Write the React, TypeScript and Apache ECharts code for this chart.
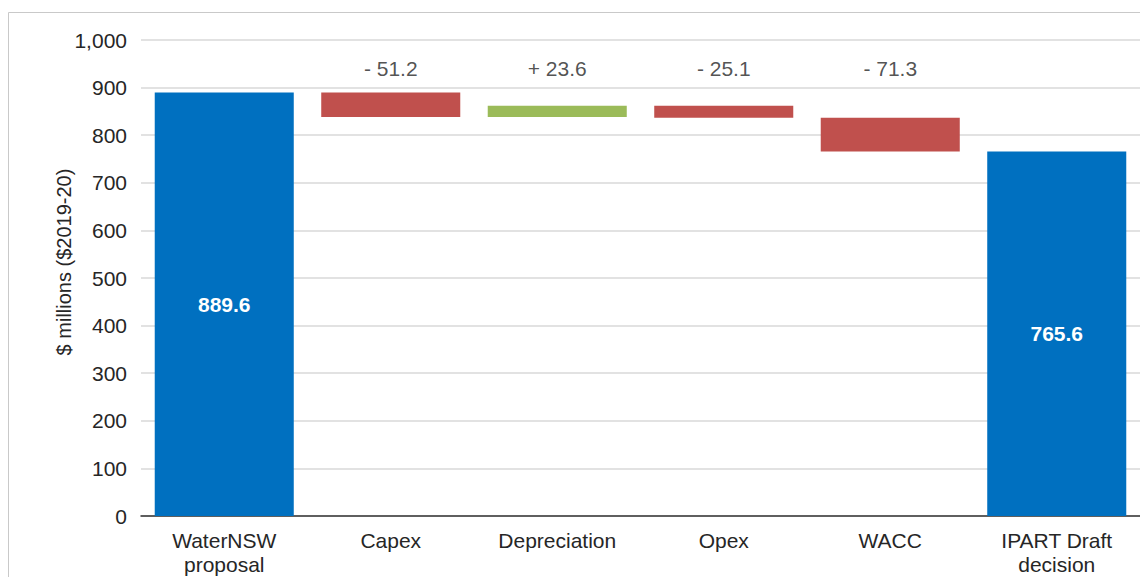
import React, { useEffect, useRef } from "react";
import * as echarts from "echarts";

const categories = ["WaterNSW\nproposal", "Capex", "Depreciation", "Opex", "WACC", "IPART Draft\ndecision"];
const startValue = 889.6;
const deltas = [-51.2, 23.6, -25.1, -71.3];
const endValue = 765.6;
const yTicks = { min: 0, max: 1000, interval: 100 };
const yAxisTitle = "$ millions ($2019-20)";

const BLUE = "#0070C0";
const RED = "#C0504D";
const GREEN = "#9BBB59";
const LABEL_LEVEL = 941;
const FONT = "Liberation Sans, Arial, sans-serif";
const TEXT = "#262626";

export default function App() {
  const ref = useRef<HTMLDivElement>(null);
  useEffect(() => {
    if (!ref.current) return;
    const chart = echarts.init(ref.current, null, { renderer: "svg" });

    const base: number[] = [0];
    const vis: any[] = [{ value: startValue, itemStyle: { color: BLUE } }];
    let run = startValue;
    deltas.forEach((d) => {
      const next = Math.round((run + d) * 10) / 10;
      base.push(Math.min(run, next));
      vis.push({ value: Math.abs(d), itemStyle: { color: d < 0 ? RED : GREEN } });
      run = next;
    });
    base.push(0);
    vis.push({ value: endValue, itemStyle: { color: BLUE } });

    const labelData: any[] = [null, ...deltas.map((d) => ({ value: LABEL_LEVEL, delta: d })), null];

    chart.setOption({
      animation: false,
      graphic: [
        {
          type: "rect",
          shape: { x: 8.5, y: 12.5, width: 1200, height: 700 },
          style: { fill: "none", stroke: "#c9c9c9", lineWidth: 1 },
          silent: true,
        },
        {
          type: "text",
          x: 64,
          y: 262,
          rotation: Math.PI / 2,
          style: {
            text: yAxisTitle,
            fill: TEXT,
            fontSize: 20,
            fontFamily: FONT,
            align: "center",
            verticalAlign: "middle",
          },
          silent: true,
        },
      ],
      grid: { left: 141, right: 0, top: 40, bottom: 61 },
      xAxis: {
        type: "category",
        data: categories,
        axisTick: { show: false },
        axisLine: { lineStyle: { color: "#333333", width: 1.5 } },
        axisLabel: { color: TEXT, fontSize: 21, fontFamily: FONT, margin: 12, lineHeight: 24, interval: 0 },
      },
      yAxis: {
        type: "value",
        min: yTicks.min,
        max: yTicks.max,
        interval: yTicks.interval,
        axisLabel: {
          color: TEXT,
          fontSize: 21,
          fontFamily: FONT,
          margin: 14,
          formatter: (v: number) => v.toLocaleString("en-US"),
        },
        splitLine: { lineStyle: { color: "#d9d9d9", width: 1.5 } },
        axisLine: { show: false },
        axisTick: { show: false },
      },
      series: [
        {
          type: "bar",
          stack: "w",
          data: base,
          itemStyle: { color: "transparent" },
          barWidth: "83.5%",
          silent: true,
        },
        {
          type: "bar",
          stack: "w",
          data: vis,
          barWidth: "83.5%",
          label: {
            show: true,
            position: "inside",
            color: "#ffffff",
            fontWeight: "bold",
            fontSize: 21,
            fontFamily: FONT,
            formatter: (p: any) => (p.dataIndex === 0 || p.dataIndex === categories.length - 1 ? p.value.toFixed(1) : ""),
          },
        },
        {
          type: "scatter",
          data: labelData,
          symbolSize: 0,
          silent: true,
          label: {
            show: true,
            position: "inside",
            color: TEXT,
            fontSize: 21,
            fontFamily: FONT,
            formatter: (p: any) => {
              const d = p.data.delta as number;
              return (d < 0 ? "- " : "+ ") + Math.abs(d).toFixed(1);
            },
          },
        },
      ],
    });
    return () => chart.dispose();
  }, []);
  return <div ref={ref} style={{ position: "absolute", left: 0, top: 0, width: 1140, height: 577 }} />;
}
